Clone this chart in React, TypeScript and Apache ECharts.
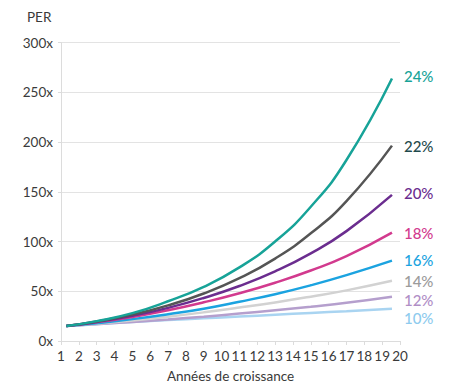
import React, { useEffect, useRef } from "react";
import * as echarts from "echarts";

const years = [1.3, 3, 5, 7, 9, 11, 13, 15, 17, 19.55];
const seriesNames = ["10%", "12%", "14%", "16%", "18%", "20%", "22%", "24%"];
const per10 = [15, 17, 19, 21, 22.8, 24.6, 26.4, 28.2, 30, 32.4];
const per12 = [15, 16.9, 19.2, 21.7, 24.5, 27.6, 30.9, 34.5, 38.4, 44.5];
const per14 = [15, 17.4, 20.7, 24.5, 28.8, 33.6, 38.8, 44.6, 50.9, 60.5];
const per16 = [15, 17.9, 22.0, 26.9, 32.5, 39.5, 47.1, 56.0, 66.2, 80.8];
const per18 = [15, 18.8, 24.2, 30.9, 38.9, 48, 58.6, 70.9, 85.3, 109];
const per20 = [15, 19.2, 25.4, 33.3, 43.3, 55.3, 70, 88.1, 110.5, 147];
const per22 = [15, 19.6, 26.6, 35.8, 47.8, 63.2, 82.9, 108.3, 140.7, 196.5];
const per24 = [15, 20, 28, 40, 54.5, 74, 100, 135, 182, 264];
const xTicks = [1, 20];
const yTicks = [0, 300];

const lineColors = ["#a9d4f1", "#b59fcd", "#d2d2d2", "#1ba3e0", "#d23a8e", "#6b2d8f", "#555555", "#17a398"];
const labelColors = ["#8ecbee", "#b08ec6", "#9b9b9b", "#1ba3e0", "#d23a8e", "#6b2d8f", "#1f4a4c", "#17a398"];
const labelOffsets = [[0, 9], [0, 3], [0, 0], [0, -1], [0, 0], [0, -2], [0, 0], [0, -2]];

const FONT = "Lato";

export default function App() {
  const ref = useRef<HTMLDivElement>(null);
  useEffect(() => {
    if (!ref.current) return;
    const chart = echarts.init(ref.current, undefined, { renderer: "svg" });
    const all = [per10, per12, per14, per16, per18, per20, per22, per24];
    chart.setOption({
      animation: false,
      textStyle: { fontFamily: FONT },
      grid: { left: 61, right: 56, top: 42.7, bottom: 47, containLabel: false },
      graphic: [
        {
          type: "text",
          left: 27,
          top: 10,
          style: { text: "PER", fontSize: 13.5, fill: "#3a3a3a", fontFamily: FONT },
        },
      ],
      xAxis: {
        type: "value",
        min: xTicks[0],
        max: xTicks[1],
        interval: 1,
        name: "Années de croissance",
        nameLocation: "middle",
        nameGap: 28,
        nameTextStyle: { fontSize: 13.5, color: "#3a3a3a", fontFamily: FONT },
        axisLine: { show: true, lineStyle: { color: "#dcdcdc", width: 1 } },
        axisTick: { show: true, length: 4, lineStyle: { color: "#dcdcdc" } },
        axisLabel: { fontSize: 13.5, color: "#3a3a3a", margin: 8, fontFamily: FONT },
        splitLine: { show: false },
      },
      yAxis: {
        type: "value",
        min: yTicks[0],
        max: yTicks[1],
        interval: 50,
        axisLine: { show: true, lineStyle: { color: "#dcdcdc", width: 1 } },
        axisTick: { show: true, length: 3, lineStyle: { color: "#dcdcdc" } },
        axisLabel: { fontSize: 13.5, color: "#3a3a3a", margin: 8, formatter: "{value}x", fontFamily: FONT },
        splitLine: { show: true, lineStyle: { color: "#e3e3e3", width: 1 } },
      },
      series: all.map((vals, i) => ({
        name: seriesNames[i],
        type: "line",
        smooth: true,
        symbol: "none",
        data: vals.map((v, j) => [years[j], v]),
        lineStyle: { color: lineColors[i], width: 2.5 },
        itemStyle: { color: lineColors[i] },
        z: 2 + i,
        endLabel: {
          show: true,
          formatter: seriesNames[i],
          color: labelColors[i],
          fontSize: 15,
          fontWeight: 500,
          fontFamily: FONT,
          distance: 12,
          offset: labelOffsets[i],
        },
      })),
    });
    return () => chart.dispose();
  }, []);
  return (
    <div
      ref={ref}
      style={{ position: "fixed", left: 0, top: 0, width: 456, height: 388, background: "#fff" }}
    />
  );
}
